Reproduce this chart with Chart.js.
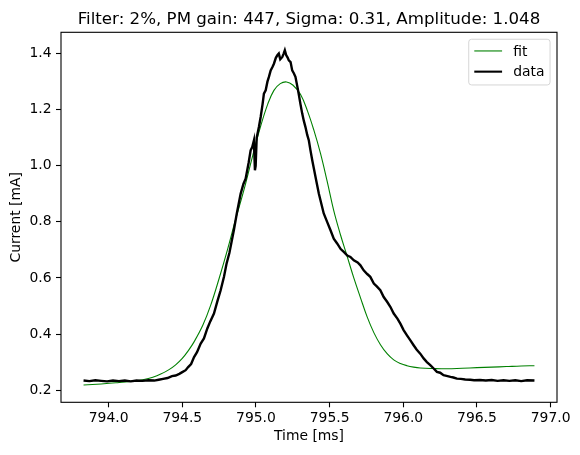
<!DOCTYPE html>
<html>
<head>
<meta charset="utf-8">
<script src="https://cdn.jsdelivr.net/npm/chart.js@4"></script>
<style>
  html, body { margin: 0; padding: 0; background: #fff; }
  #wrap { width: 580px; height: 455px; }
</style>
</head>
<body>
<div id="wrap"><canvas id="myChart" width="580" height="455"></canvas></div>
<script>
const titleText = "Filter: 2%, PM gain: 447, Sigma: 0.31, Amplitude: 1.048"

// measured trace
const dataTime = [793.83, 793.87, 793.91, 793.95, 793.99, 794.03, 794.07, 794.11, 794.15, 794.19,
  794.23, 794.27, 794.31, 794.34, 794.37, 794.40, 794.43, 794.455, 794.48, 794.50,
  794.523, 794.54, 794.56, 794.58, 794.60, 794.625, 794.647, 794.67, 794.69, 794.715,
  794.74, 794.76, 794.783, 794.80, 794.82, 794.85, 794.87, 794.896, 794.915, 794.93,
  794.95, 794.964, 794.975, 794.986, 794.993, 794.998, 795.005, 795.02, 795.032, 795.045,
  795.054, 795.066, 795.078, 795.088, 795.10, 795.112, 795.122, 795.135, 795.145, 795.155,
  795.165, 795.179, 795.188, 795.196, 795.205, 795.215, 795.223, 795.235, 795.246, 795.257,
  795.268, 795.28, 795.29, 795.302, 795.314, 795.325, 795.336, 795.348, 795.359, 795.37,
  795.382, 795.393, 795.41, 795.427, 795.445, 795.46, 795.483, 795.506, 795.528, 795.551,
  795.575, 795.596, 795.62, 795.641, 795.664, 795.69, 795.709, 795.731, 795.755, 795.776,
  795.80, 795.82, 795.844, 795.867, 795.89, 795.912, 795.935, 795.96, 795.98, 796.002,
  796.025, 796.047, 796.07, 796.09, 796.115, 796.138, 796.16, 796.183, 796.206, 796.228,
  796.25, 796.273, 796.30, 796.32, 796.34, 796.364, 796.39, 796.42, 796.454, 796.48,
  796.52, 796.56, 796.60, 796.64, 796.68, 796.72, 796.76, 796.80, 796.84, 796.89]
const dataCurrent = [0.234, 0.232, 0.235, 0.233, 0.231, 0.234, 0.232, 0.234, 0.231, 0.234,
  0.233, 0.235, 0.234, 0.237, 0.240, 0.243, 0.250, 0.252, 0.258, 0.264,
  0.271, 0.282, 0.293, 0.318, 0.335, 0.366, 0.384, 0.420, 0.445, 0.473,
  0.520, 0.555, 0.604, 0.650, 0.690, 0.770, 0.830, 0.900, 0.935, 0.954,
  1.010, 1.055, 1.067, 1.090, 0.984, 1.000, 1.100, 1.138, 1.174, 1.220,
  1.257, 1.269, 1.300, 1.317, 1.340, 1.352, 1.364, 1.385, 1.394, 1.400,
  1.380, 1.388, 1.400, 1.412, 1.395, 1.386, 1.376, 1.370, 1.340, 1.330,
  1.317, 1.285, 1.257, 1.220, 1.186, 1.160, 1.138, 1.110, 1.090, 1.055,
  1.020, 0.990, 0.945, 0.900, 0.862, 0.830, 0.800, 0.770, 0.740, 0.723,
  0.703, 0.693, 0.680, 0.675, 0.663, 0.655, 0.645, 0.627, 0.614, 0.604,
  0.580, 0.570, 0.556, 0.532, 0.515, 0.497, 0.473, 0.455, 0.437, 0.414,
  0.395, 0.378, 0.360, 0.345, 0.330, 0.313, 0.300, 0.289, 0.277, 0.265,
  0.262, 0.253, 0.250, 0.247, 0.245, 0.241, 0.240, 0.238, 0.237, 0.235,
  0.236, 0.234, 0.236, 0.233, 0.235, 0.233, 0.235, 0.232, 0.235, 0.234]

// fitted curve
const fitTime = [793.83, 793.95, 794.05, 794.15, 794.24, 794.30, 794.354, 794.41, 794.455, 794.50,
  794.54, 794.58, 794.64, 794.693, 794.75, 794.806, 794.86, 794.918, 794.975, 795.03, 795.08,
  795.122, 795.165, 795.208, 795.25, 795.302, 795.35, 795.393, 795.438, 795.483, 795.528,
  795.573, 795.619, 795.664, 795.709, 795.754, 795.80, 795.845, 795.89, 795.935, 795.98,
  796.025, 796.07, 796.115, 796.2, 796.3, 796.4, 796.5, 796.6, 796.7, 796.8, 796.89]
const fitCurrent = [0.218, 0.222, 0.226, 0.231, 0.238, 0.246, 0.257, 0.273, 0.290, 0.313,
  0.340, 0.372, 0.432, 0.503, 0.598, 0.699, 0.805, 0.913, 1.030, 1.138, 1.220,
  1.269, 1.293, 1.299, 1.288, 1.255, 1.195, 1.127, 1.044, 0.945, 0.840,
  0.755, 0.677, 0.600, 0.530, 0.462, 0.405, 0.362, 0.330, 0.308, 0.295,
  0.287, 0.282, 0.279, 0.277, 0.276, 0.278, 0.280, 0.282, 0.284, 0.286, 0.287]

const xTicks = [794.0, 794.5, 795.0, 795.5, 796.0, 796.5, 797.0]
const yTicks = [0.2, 0.4, 0.6, 0.8, 1.0, 1.2, 1.4]

const font = "DejaVu Sans"
const pts = (xs, ys) => xs.map((x, i) => ({ x: x, y: ys[i] }))

// frame, title and legend in matplotlib style
const decor = {
  id: "decor",
  afterDatasetsDraw(chart) {
    const ctx = chart.ctx
    const a = chart.chartArea
    ctx.save()
    ctx.strokeStyle = "#000"
    ctx.lineWidth = 1.1
    ctx.strokeRect(a.left, a.top, a.right - a.left, a.bottom - a.top)

    ctx.fillStyle = "#000"
    ctx.font = "16.67px '" + font + "'"
    ctx.textAlign = "center"
    ctx.textBaseline = "alphabetic"
    ctx.fillText(titleText, (a.left + a.right) / 2, a.top - 8.3)

    // legend box
    const fs = 13.9
    ctx.font = fs + "px '" + font + "'"
    const labels = ["fit", "data"]
    const tw = Math.max(...labels.map(l => ctx.measureText(l).width))
    const w = 0.4 * fs * 2 + 2 * fs + 0.8 * fs + tw
    const h = 45.7
    const right = a.right - 0.5 * fs
    const top = a.top + 0.5 * fs
    const left = right - w
    ctx.beginPath()
    ctx.roundRect(left, top, w, h, 2.8)
    ctx.fillStyle = "rgba(255,255,255,0.8)"
    ctx.fill()
    ctx.strokeStyle = "rgba(204,204,204,0.8)"
    ctx.lineWidth = 1
    ctx.stroke()

    const rows = [top + 11.7, top + 32.4]
    const styles = [["#008000", 1.1], ["#000", 2.1]]
    rows.forEach((y, i) => {
      ctx.beginPath()
      ctx.strokeStyle = styles[i][0]
      ctx.lineWidth = styles[i][1]
      ctx.moveTo(left + 0.4 * fs, y)
      ctx.lineTo(left + 0.4 * fs + 2 * fs, y)
      ctx.stroke()
      ctx.fillStyle = "#000"
      ctx.textAlign = "left"
      ctx.textBaseline = "middle"
      ctx.fillText(labels[i], left + 0.4 * fs + 2.8 * fs, y + 1)
    })
    ctx.restore()
  }
}

const ctx = document.getElementById("myChart").getContext("2d")
const myChart = new Chart(ctx, {
  type: "scatter",
  data: {
    datasets: [
      {
        label: "data",
        data: pts(dataTime, dataCurrent),
        showLine: true,
        borderColor: "#000",
        borderWidth: 2.4,
        pointRadius: 0,
        tension: 0,
        order: 0
      },
      {
        label: "fit",
        data: pts(fitTime, fitCurrent),
        showLine: true,
        borderColor: "#008000",
        borderWidth: 1.1,
        pointRadius: 0,
        tension: 0.4,
        order: 1
      }
    ]
  },
  options: {
    responsive: false,
    animation: false,
    devicePixelRatio: 1,
    layout: { padding: { top: 32.3, right: 23, left: 0, bottom: 0 } },
    plugins: {
      legend: { display: false },
      title: { display: false },
      tooltip: { enabled: false }
    },
    scales: {
      x: {
        type: "linear",
        min: 793.677,
        max: 797.043,
        afterBuildTicks: s => { s.ticks = xTicks.map(v => ({ value: v })) },
        afterFit: s => { s.height = 52.7 },
        border: { display: false },
        grid: { drawOnChartArea: false, drawTicks: true, tickLength: 5, tickWidth: 1.1, tickColor: "#000" },
        ticks: {
          color: "#000",
          padding: 3,
          maxRotation: 0,
          autoSkip: false,
          font: { family: font, size: 13.9 },
          callback: v => v.toFixed(1)
        },
        title: {
          display: true,
          text: "Time [ms]",
          color: "#000",
          font: { family: font, size: 13.9 },
          padding: { top: 0, bottom: 9.8 }
        }
      },
      y: {
        type: "linear",
        min: 0.1565,
        max: 1.476,
        afterBuildTicks: s => { s.ticks = yTicks.map(v => ({ value: v })) },
        afterFit: s => { s.width = 61 },
        border: { display: false },
        grid: { drawOnChartArea: false, drawTicks: true, tickLength: 5, tickWidth: 1.1, tickColor: "#000" },
        ticks: {
          color: "#000",
          padding: 4.5,
          autoSkip: false,
          font: { family: font, size: 13.9 },
          callback: v => v.toFixed(1)
        },
        title: {
          display: true,
          text: "Current [mA]",
          color: "#000",
          font: { family: font, size: 13.9 },
          padding: { top: 7.6, bottom: 0 }
        }
      }
    }
  },
  plugins: [decor]
})
</script>
</body>
</html>
